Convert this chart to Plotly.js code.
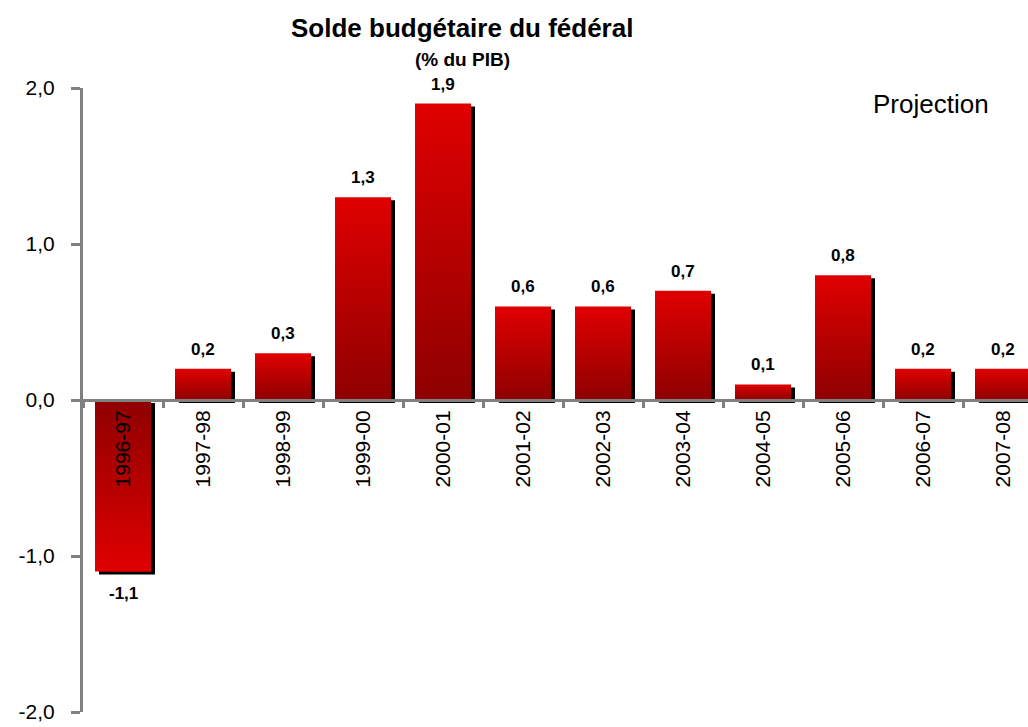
<!DOCTYPE html>
<html>
<head>
<meta charset="utf-8">
<script src="https://cdn.plot.ly/plotly-3.0.1.min.js"></script>
<style>
html,body{margin:0;padding:0;background:#fff;}
#chart{width:1028px;height:727px;}
</style>
</head>
<body>
<div id="chart"></div>
<script>
var categories = ["1996-97","1997-98","1998-99","1999-00","2000-01","2001-02","2002-03","2003-04","2004-05","2005-06","2006-07","2007-08"];
var values = [-1.1, 0.2, 0.3, 1.3, 1.9, 0.6, 0.6, 0.7, 0.1, 0.8, 0.2, 0.2];
var yTicks = [-2, -1, 0, 1, 2];
var yTickLabels = ["-2,0", "-1,0", "0,0", "1,0", "2,0"];
var titleText = "Solde budgétaire du fédéral";
var subtitleText = "(% du PIB)";
var noteText = "Projection";

var FONT = "'Liberation Sans Narrow', 'Arial Narrow', 'Liberation Sans', Arial, sans-serif";
var GREY = "#808080";

function fmt(v){ return v.toFixed(1).replace('.', ','); }

var trace = {
  type: 'bar',
  x: categories,
  y: values,
  marker: {color: '#d00000', line: {width: 0}},
  hoverinfo: 'none',
  cliponaxis: true
};

var annotations = values.map(function(v, i){
  return {
    x: categories[i], y: v, xref: 'x', yref: 'y',
    text: '<b>' + fmt(v) + '</b>', showarrow: false,
    xanchor: 'center',
    yanchor: v >= 0 ? 'bottom' : 'top',
    yshift: v >= 0 ? 8 : -10,
    font: {family: FONT, size: 17, color: '#000'}
  };
});
annotations.push({
  xref: 'paper', yref: 'paper', x: 0.401, y: 1, xanchor: 'center', yanchor: 'middle', yshift: 60,
  text: '<b>' + titleText + '</b>', showarrow: false,
  font: {family: FONT, size: 26, color: '#000'}
});
annotations.push({
  xref: 'paper', yref: 'paper', x: 0.402, y: 1, xanchor: 'center', yanchor: 'middle', yshift: 29,
  text: '<b>' + subtitleText + '</b>', showarrow: false,
  font: {family: FONT, size: 19, color: '#000'}
});
annotations.push({
  xref: 'paper', yref: 'y', x: 0.897, y: 1.9, xanchor: 'center', yanchor: 'middle',
  text: noteText, showarrow: false,
  font: {family: FONT, size: 26, color: '#000'}
});

var layout = {
  width: 1028, height: 727,
  margin: {l: 83, r: 0, t: 88, b: 15, pad: 0},
  paper_bgcolor: '#fff', plot_bgcolor: '#fff',
  separators: ', ',
  showlegend: false,
  bargap: 0.3,
  font: {family: FONT, color: '#000'},
  xaxis: {
    type: 'category',
    range: [-0.5, 11.3125],
    anchor: 'free', position: 0.5,
    showline: true, linecolor: GREY, linewidth: 3,
    ticks: 'outside', tickson: 'boundaries', ticklen: 6, tickwidth: 3, tickcolor: GREY,
    tickangle: -90,
    tickfont: {family: FONT, size: 21, color: '#000'},
    showgrid: false, zeroline: false, fixedrange: true
  },
  yaxis: {
    range: [-2, 2],
    tickmode: 'array',
    tickvals: yTicks,
    ticktext: yTickLabels,
    showline: true, linecolor: GREY, linewidth: 3,
    ticks: 'outside', ticklen: 9, tickwidth: 3, tickcolor: GREY,
    ticklabelstandoff: 12,
    tickfont: {family: FONT, size: 21, color: '#000'},
    showgrid: false, zeroline: false, fixedrange: true
  },
  annotations: annotations
};

var gd = document.getElementById('chart');
Plotly.newPlot(gd, [trace], layout, {staticPlot: true, displayModeBar: false}).then(function(){
  var svg = gd.querySelector('.main-svg');
  var NS = 'http://www.w3.org/2000/svg';
  var defs = svg.querySelector('defs') || svg.insertBefore(document.createElementNS(NS, 'defs'), svg.firstChild);
  function grad(id, c1, c2){
    var g = document.createElementNS(NS, 'linearGradient');
    g.setAttribute('id', id);
    g.setAttribute('x1', '0'); g.setAttribute('y1', '0');
    g.setAttribute('x2', '0'); g.setAttribute('y2', '1');
    [[0, c1], [1, c2]].forEach(function(s){
      var st = document.createElementNS(NS, 'stop');
      st.setAttribute('offset', s[0]);
      st.setAttribute('stop-color', s[1]);
      g.appendChild(st);
    });
    defs.appendChild(g);
  }
  grad('gradPos', '#e00000', '#8e0000');
  grad('gradNeg', '#8e0000', '#e00000');
  var f = document.createElementNS(NS, 'filter');
  f.setAttribute('id', 'barShadow');
  f.setAttribute('x', '-0.2'); f.setAttribute('y', '-0.5');
  f.setAttribute('width', '1.5'); f.setAttribute('height', '2');
  var ds = document.createElementNS(NS, 'feDropShadow');
  ds.setAttribute('dx', '4'); ds.setAttribute('dy', '3');
  ds.setAttribute('stdDeviation', '0');
  ds.setAttribute('flood-color', '#000'); ds.setAttribute('flood-opacity', '1');
  f.appendChild(ds);
  defs.appendChild(f);
  var paths = gd.querySelectorAll('.trace.bars .point path');
  paths.forEach(function(p, i){
    var v = values[i];
    p.style.fill = v >= 0 ? 'url(#gradPos)' : 'url(#gradNeg)';
    p.setAttribute('filter', 'url(#barShadow)');
  });
});
</script>
</body>
</html>
